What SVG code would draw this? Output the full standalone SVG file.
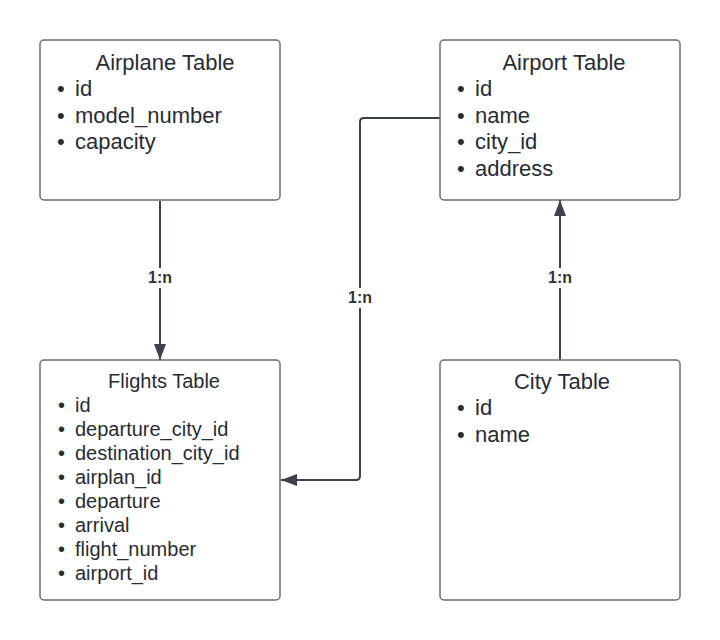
<svg xmlns="http://www.w3.org/2000/svg" width="720" height="640" viewBox="0 0 720 640">
<style>
.box{fill:#ffffff;stroke:#6b6e73;stroke-width:1.5}
.t{font-family:"Liberation Sans",Arial,sans-serif;fill:#282c33}
.big{font-size:22px}
.mid{font-size:20px}
.ttl{text-anchor:middle}
.conn{fill:none;stroke:#3a414a;stroke-width:2}
.lbl{font-family:"Liberation Sans",Arial,sans-serif;font-size:16px;font-weight:bold;fill:#333333;text-anchor:middle}
.lblbg{fill:#ffffff}
</style>
<defs>
<marker id="arr" viewBox="0 0 16 12" refX="16" refY="6" markerWidth="16" markerHeight="12" markerUnits="userSpaceOnUse" orient="auto">
<path d="M0,0 L16,6 L0,12 Z" fill="#3a414a"/>
</marker>
</defs>
<rect width="720" height="640" fill="#ffffff"/>
<g id="connectors">
<path class="conn" d="M160,201 L160,360" marker-end="url(#arr)"/>
<path class="conn" d="M440,118 L364,118 Q360,118 360,122 L360,476 Q360,480 356,480 L281,480" marker-end="url(#arr)"/>
<path class="conn" d="M560,360 L560,200" marker-end="url(#arr)"/>
<rect class="lblbg" x="144" y="268" width="32" height="20"/>
<text class="lbl" x="160" y="283">1:n</text>
<rect class="lblbg" x="344" y="288" width="32" height="20"/>
<text class="lbl" x="360" y="303">1:n</text>
<rect class="lblbg" x="544" y="268" width="32" height="20"/>
<text class="lbl" x="560" y="283">1:n</text>
</g>
<g id="airplane">
<rect class="box" x="40" y="40" width="240" height="160" rx="4"/>
<text class="t big ttl" x="165" y="70">Airplane Table</text>
<text class="t big" x="57" y="96">•</text><text class="t big" x="75" y="96">id</text>
<text class="t big" x="57" y="122.7">•</text><text class="t big" x="75" y="122.7">model_number</text>
<text class="t big" x="57" y="149.4">•</text><text class="t big" x="75" y="149.4">capacity</text>
</g>
<g id="airport">
<rect class="box" x="440" y="40" width="240" height="160" rx="4"/>
<text class="t big ttl" x="564" y="70">Airport Table</text>
<text class="t big" x="457" y="96">•</text><text class="t big" x="475" y="96">id</text>
<text class="t big" x="457" y="122.7">•</text><text class="t big" x="475" y="122.7">name</text>
<text class="t big" x="457" y="149.4">•</text><text class="t big" x="475" y="149.4">city_id</text>
<text class="t big" x="457" y="176.1">•</text><text class="t big" x="475" y="176.1">address</text>
</g>
<g id="flights">
<rect class="box" x="40" y="360" width="240" height="240" rx="4"/>
<text class="t mid ttl" x="164" y="388">Flights Table</text>
<text class="t mid" x="58" y="412">•</text><text class="t mid" x="75" y="412">id</text>
<text class="t mid" x="58" y="436">•</text><text class="t mid" x="75" y="436">departure_city_id</text>
<text class="t mid" x="58" y="460">•</text><text class="t mid" x="75" y="460">destination_city_id</text>
<text class="t mid" x="58" y="484">•</text><text class="t mid" x="75" y="484">airplan_id</text>
<text class="t mid" x="58" y="508">•</text><text class="t mid" x="75" y="508">departure</text>
<text class="t mid" x="58" y="532">•</text><text class="t mid" x="75" y="532">arrival</text>
<text class="t mid" x="58" y="556">•</text><text class="t mid" x="75" y="556">flight_number</text>
<text class="t mid" x="58" y="580">•</text><text class="t mid" x="75" y="580">airport_id</text>
</g>
<g id="city">
<rect class="box" x="440" y="360" width="240" height="240" rx="4"/>
<text class="t big ttl" x="562" y="389">City Table</text>
<text class="t big" x="457" y="415">•</text><text class="t big" x="475" y="415">id</text>
<text class="t big" x="457" y="441.7">•</text><text class="t big" x="475" y="441.7">name</text>
</g>
</svg>
